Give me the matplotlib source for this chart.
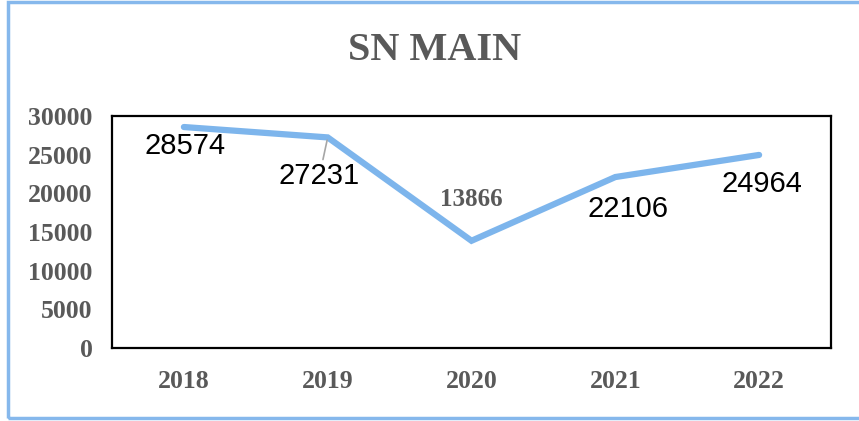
import matplotlib
matplotlib.use("Agg")
import matplotlib.pyplot as plt
from matplotlib.patches import Rectangle

years = ["2018", "2019", "2020", "2021", "2022"]
values = [28574, 27231, 13866, 22106, 24964]
y_ticks = [0, 5000, 10000, 15000, 20000, 25000, 30000]

LINE_BLUE = "#7db5ec"
GREY = "#595959"
SERIF = ["Liberation Serif", "DejaVu Serif"]
SANS = ["Liberation Sans", "DejaVu Sans"]

fig = plt.figure(figsize=(8.59, 4.21), dpi=100)
ax = fig.add_axes([112 / 859, 1 - 348 / 421, 719 / 859, 232 / 421])

x = list(range(len(years)))
ax.plot(x, values, color=LINE_BLUE, linewidth=4.5, solid_capstyle="round",
        solid_joinstyle="miter")

ax.set_xlim(-0.5, len(years) - 0.5)
ax.set_ylim(0, 30000)
ax.set_xticks(x)
ax.set_xticklabels(years)
ax.set_yticks(y_ticks)
ax.set_yticklabels([str(t) for t in y_ticks])
ax.tick_params(length=0, colors=GREY)
ax.tick_params(axis="x", pad=16)
ax.tick_params(axis="y", pad=14)
for lab in ax.get_xticklabels() + ax.get_yticklabels():
    lab.set_fontfamily(SERIF)
    lab.set_fontweight("bold")
    lab.set_fontsize(18.5)
    lab.set_color(GREY)
for sp in ax.spines.values():
    sp.set_linewidth(1.6)
    sp.set_color("black")

# data labels (offsets in points)
label_offsets = [(1, -14), (-6, -28), (0, 30), (9, -23), (2, -21)]
for i, (v, off) in enumerate(zip(values, label_offsets)):
    if years[i] == "2020":
        ax.annotate(str(v), (i, v), xytext=off, textcoords="offset points",
                    ha="center", va="center", fontsize=18, fontweight="bold",
                    family=SERIF, color=GREY)
    elif years[i] == "2019":
        ax.annotate(str(v), (i, v), xytext=off, textcoords="offset points",
                    ha="center", va="center", fontsize=21, family=SANS,
                    color="black",
                    arrowprops=dict(arrowstyle="-", color="#a6a6a6", lw=1.2,
                                    shrinkA=0, shrinkB=2))
    else:
        ax.annotate(str(v), (i, v), xytext=off, textcoords="offset points",
                    ha="center", va="center", fontsize=21, family=SANS,
                    color="black")

fig.text(435 / 859, 1 - 50 / 421, "SN MAIN", ha="center", va="center",
         fontsize=29, fontweight="bold", family=SERIF, color=GREY)

# outer chart border (right side runs off the image)
fig.patches.append(Rectangle((8 / 859, 3 / 421), 1.0, 416 / 421,
                             transform=fig.transFigure, fill=False,
                             edgecolor="#86b8ec", linewidth=2.5))

fig.savefig("out.png", dpi=100)
